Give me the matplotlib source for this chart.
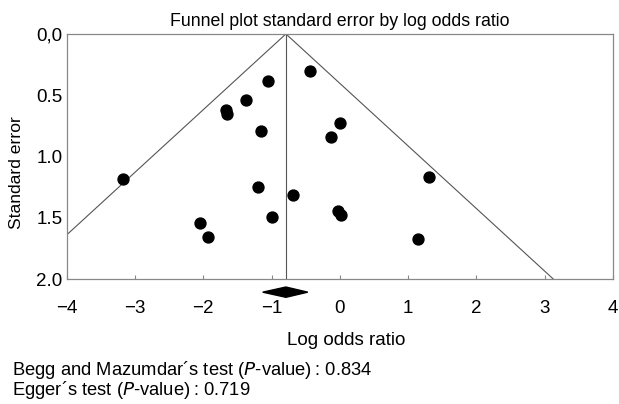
import numpy as np
import matplotlib.pyplot as plt

plt.rcParams['font.family'] = ['Liberation Sans', 'DejaVu Sans']

# study estimates
log_or = [-3.18, -0.44, -1.05, -1.37, -1.67, -1.65, -1.16, 0.0, -0.13,
          -1.20, -0.69, 1.31, -1.00, -2.05, -1.93, -0.03, 0.01, 1.14]
std_err = [1.18, 0.30, 0.38, 0.54, 0.62, 0.65, 0.79, 0.73, 0.84,
           1.25, 1.31, 1.17, 1.49, 1.54, 1.66, 1.44, 1.48, 1.67]

pooled = -0.79
ci_low, ci_high = -1.13, -0.47

xticks = [-4, -3, -2, -1, 0, 1, 2, 3, 4]
yticks = [0.0, 0.5, 1.0, 1.5, 2.0]
ytick_labels = ['0,0', '0.5', '1.0', '1.5', '2.0']

fig = plt.figure(figsize=(6.19, 4.04), dpi=100)
ax = fig.add_axes([0.108, 0.309, 0.882, 0.607])

se = np.linspace(0, 2.0, 50)
ax.plot(pooled - 1.96 * se, se, color='#555555', lw=0.8)
ax.plot(pooled + 1.96 * se, se, color='#555555', lw=0.8)
ax.plot([pooled, pooled], [0, 2.0], color='#555555', lw=0.8)

ax.scatter(log_or, std_err, s=62, color='black', zorder=3)

# pooled estimate diamond under the axis
ax.fill([ci_low, pooled, ci_high, pooled], [2.106, 2.064, 2.106, 2.148],
        color='black', clip_on=False)

ax.set_xlim(-4, 4)
ax.set_ylim(2.0, 0.0)
ax.set_xticks(xticks)
ax.set_xticklabels(['\u2212' + str(-t) if t < 0 else str(t) for t in xticks])
ax.set_yticks(yticks)
ax.set_yticklabels(ytick_labels)
ax.tick_params(axis='x', direction='in', length=3, color='#888888',
               labelsize=13.5, pad=15)
ax.tick_params(axis='y', length=0, labelsize=13.5, pad=3)
for sp in ax.spines.values():
    sp.set_color('#888888')
    sp.set_linewidth(0.9)

ax.set_title('Funnel plot standard error by log odds ratio', fontsize=12.8, pad=6)
ax.set_xlabel('Log odds ratio', fontsize=13.5)
ax.xaxis.set_label_coords(0.512, -0.215)
ax.set_ylabel('Standard error', fontsize=12.6)
ax.yaxis.set_label_coords(-0.079, 0.433)

fig.text(0.019, 0.085, 'Begg and Mazumdar\u00b4s test ($\\mathit{P}$-value)\u2009: 0.834',
         fontsize=13.2, va='center')
fig.text(0.019, 0.034, 'Egger\u00b4s test ($\\mathit{P}$-value)\u2009: 0.719',
         fontsize=13.2, va='center')

fig.savefig('out.png', dpi=100)
